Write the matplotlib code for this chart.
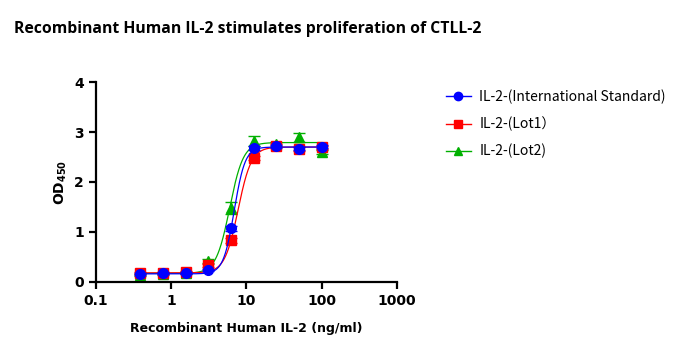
import numpy as np
import matplotlib.pyplot as plt

conc = [0.39, 0.78, 1.56, 3.125, 6.25, 12.5, 25, 50, 100]

std_od = [0.15, 0.17, 0.17, 0.23, 1.07, 2.69, 2.72, 2.67, 2.71]
std_err = [0.02, 0.02, 0.02, 0.02, 0.05, 0.04, 0.03, 0.03, 0.03]
lot1_od = [0.17, 0.18, 0.20, 0.33, 0.83, 2.48, 2.73, 2.66, 2.70]
lot1_err = [0.02, 0.02, 0.02, 0.03, 0.05, 0.04, 0.03, 0.04, 0.03]
lot2_od = [0.14, 0.16, 0.18, 0.42, 1.48, 2.83, 2.76, 2.90, 2.61]
lot2_err = [0.02, 0.02, 0.02, 0.04, 0.12, 0.10, 0.04, 0.09, 0.04]

# 4PL fit parameters (bottom, top, EC50, hill)
std_fit = (0.16, 2.70, 6.9, 6.0)
lot1_fit = (0.18, 2.70, 7.75, 4.9)
lot2_fit = (0.17, 2.79, 6.0, 4.8)

labels = ["IL-2-(International Standard)", "IL-2-(Lot1）", "IL-2-(Lot2)"]
colors = ["#0000ff", "#ff0000", "#00b000"]
markers = ["o", "s", "^"]


def fourpl(x, b, t, c, h):
    return b + (t - b) / (1 + (c / x) ** h)


fig = plt.figure(figsize=(6.75, 3.51), dpi=100)
ax = fig.add_axes([0.142, 0.197, 0.446, 0.569])

xs = np.logspace(np.log10(0.39), np.log10(100), 400)
series = [(std_od, std_err, std_fit), (lot1_od, lot1_err, lot1_fit), (lot2_od, lot2_err, lot2_fit)]
# green underneath, blue on top
for i in [2, 1, 0]:
    od, err, fit = series[i]
    col, mk = colors[i], markers[i]
    ax.plot(xs, fourpl(xs, *fit), color=col, lw=0.9)
    ax.errorbar(conc, od, yerr=err, fmt='none', ecolor=col, elinewidth=0.9, capsize=4)
    ax.plot(conc, od, mk, color=col, ms=7, lw=0)

ax.set_xscale('log')
ax.set_xlim(0.1, 1000)
ax.set_ylim(0, 4)
ax.set_yticks([0, 1, 2, 3, 4])
ax.set_xticks([0.1, 1, 10, 100, 1000])
ax.set_xticklabels(["0.1", "1", "10", "100", "1000"])
ax.minorticks_off()
for s in ['top', 'right']:
    ax.spines[s].set_visible(False)
for s in ['left', 'bottom']:
    ax.spines[s].set_linewidth(1.6)
ax.tick_params(width=1.6, length=5, labelsize=10)
for t in ax.get_xticklabels() + ax.get_yticklabels():
    t.set_fontweight('bold')

ax.set_xlabel("Recombinant Human IL-2 (ng/ml)", fontsize=9, fontweight='bold', labelpad=10)
ax.set_ylabel("OD$_{\\mathbf{450}}$", fontsize=10, fontweight='bold')

fig.text(0.02, 0.918, "Recombinant Human IL-2 stimulates proliferation of CTLL-2",
         fontsize=11.3, fontweight='bold', family=['Open Sans', 'DejaVu Sans'], va='center')

leg_handles = [plt.Line2D([], [], color=c, marker=m, ms=6, lw=1) for c, m in zip(colors, markers)]
fig.legend(leg_handles, labels, loc='upper left', bbox_to_anchor=(0.642, 0.78),
           frameon=False, prop={'family': ['Noto Sans CJK SC', 'DejaVu Sans'], 'size': 10},
           handlelength=1.8, handletextpad=0.6, labelspacing=0.9)

fig.savefig("out.png", dpi=100)
